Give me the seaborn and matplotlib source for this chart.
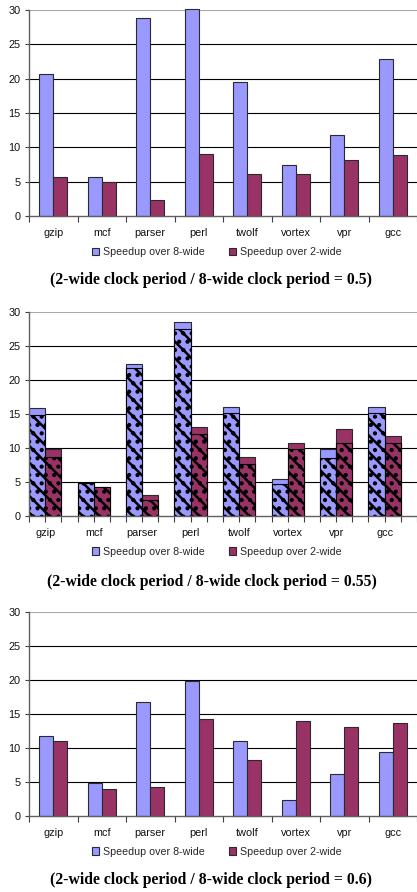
import matplotlib
matplotlib.use("Agg")
import matplotlib.pyplot as plt
import seaborn as sns
import pandas as pd
from matplotlib.patches import Patch

benchmarks = ["gzip", "mcf", "parser", "perl", "twolf", "vortex", "vpr", "gcc"]
series_names = ["Speedup over 8-wide", "Speedup over 2-wide"]

# ratio 0.5
speedup8_r050 = [20.7, 5.7, 28.8, 30.2, 19.5, 7.4, 11.85, 22.8]
speedup2_r050 = [5.65, 4.95, 2.3, 9.0, 6.15, 6.05, 8.1, 8.95]

# ratio 0.55 (solid total + hatched inner part)
speedup8_r055_total = [15.8, 4.9, 22.3, 28.5, 16.05, 5.4, 9.9, 16.05]
speedup8_r055_inner = [14.8, 4.9, 21.8, 27.5, 15.1, 4.65, 8.5, 15.1]
speedup2_r055_total = [9.9, 4.25, 3.1, 13.1, 8.6, 10.7, 12.8, 11.75]
speedup2_r055_inner = [8.7, 4.2, 2.35, 12.0, 7.7, 9.8, 10.7, 10.7]

# ratio 0.6
speedup8_r060 = [11.7, 4.9, 16.7, 19.8, 11.05, 2.35, 6.1, 9.35]
speedup2_r060 = [10.95, 4.0, 4.3, 14.2, 8.2, 13.95, 13.0, 13.65]

titles = ["(2-wide clock period / 8-wide clock period = 0.5)",
          "(2-wide clock period / 8-wide clock period = 0.55)",
          "(2-wide clock period / 8-wide clock period = 0.6)"]
y_ticks = [0, 5, 10, 15, 20, 25, 30]

c8 = "#9999FF"
c2 = "#993366"
edge = "#2a2a2a"

sns.set_style("white")
plt.rcParams["font.family"] = ["Liberation Sans", "DejaVu Sans"]
plt.rcParams["hatch.linewidth"] = 1.8

W, H = 417, 892
fig = plt.figure(figsize=(W / 100, H / 100), dpi=100)


def add_ax(top_px, bottom_px):
    return fig.add_axes([29 / W, 1 - bottom_px / H, 388 / W, (bottom_px - top_px) / H])


def style(ax):
    ax.set_ylim(0, 30)
    ax.set_yticks(y_ticks)
    ax.set_yticklabels([str(t) for t in y_ticks])
    ax.set_ylabel("")
    ax.set_xlabel("")
    ax.set_axisbelow(True)
    ax.yaxis.grid(True, color="black", linewidth=0.8)
    ax.xaxis.grid(False)
    gl = ax.get_ygridlines()
    gl[-1].set_color("#a8a8a8")
    gl[0].set_visible(False)
    for s in ["top", "right"]:
        ax.spines[s].set_visible(False)
    for s in ["left", "bottom"]:
        ax.spines[s].set_color("#606060")
        ax.spines[s].set_linewidth(1.0)
    ax.tick_params(axis="y", left=True, length=3, width=0.8, color="#404040",
                   labelsize=7.8, pad=3, labelcolor="#111111")
    ax.tick_params(axis="x", labelsize=7.8, labelcolor="#111111")
    ax.legend(handles=[Patch(facecolor=c8, edgecolor=edge, linewidth=0.8, label=series_names[0]),
                       Patch(facecolor=c2, edgecolor=edge, linewidth=0.8, label=series_names[1])],
              loc="center", bbox_to_anchor=(0.484, -0.175), ncol=2, frameon=False,
              fontsize=7.7, handlelength=0.65, handleheight=0.65, handletextpad=0.4,
              columnspacing=2.3)


def simple_panel(ax, v8, v2):
    df = pd.DataFrame({"benchmark": benchmarks * 2,
                       "speedup": v8 + v2,
                       "series": [series_names[0]] * len(v8) + [series_names[1]] * len(v2)})
    sns.barplot(data=df, x="benchmark", y="speedup", hue="series", order=benchmarks,
                hue_order=series_names, palette=[c8, c2], saturation=1, width=0.57, gap=0,
                edgecolor=edge, linewidth=0.8, errorbar=None, legend=False, ax=ax,
                clip_on=False)
    ax.set_xlim(-0.5, len(benchmarks) - 0.5)
    ax.set_xticks(range(len(benchmarks)))
    ax.set_xticklabels(benchmarks)
    ax.set_xticks([i - 0.5 for i in range(len(benchmarks) + 1)], minor=True)
    ax.tick_params(axis="x", which="major", length=0, pad=9)
    ax.tick_params(axis="x", which="minor", bottom=True, length=4, width=0.8, color="#404040")
    style(ax)


def hatched_panel(ax, t8, i8, t2, i2):
    n = len(benchmarks)
    slots = [3 * k + 0.5 for k in range(n)] + [3 * k + 1.5 for k in range(n)]
    ser = [series_names[0]] * n + [series_names[1]] * n
    df_t = pd.DataFrame({"slot": slots, "speedup": t8 + t2, "series": ser})
    df_i = pd.DataFrame({"slot": slots, "speedup": i8 + i2, "series": ser})
    common = dict(x="slot", y="speedup", hue="series", hue_order=series_names,
                  palette=[c8, c2], saturation=1, native_scale=True, dodge=False,
                  width=1.0, errorbar=None, legend=False, ax=ax)
    sns.barplot(data=df_t, edgecolor=edge, linewidth=0.8, **common)
    sns.barplot(data=df_i, edgecolor="black", linewidth=0.8, hatch="\\\\..", **common)
    ax.set_xlim(0, 3 * n)
    ax.set_xticks(range(3 * n + 1))
    labels = [""] * (3 * n + 1)
    for k, b in enumerate(benchmarks):
        labels[3 * k + 1] = b
    ax.set_xticklabels(labels)
    ax.tick_params(axis="x", which="major", bottom=True, length=4, width=0.8,
                   color="#404040", pad=5)
    style(ax)


ax1 = add_ax(10, 216)
simple_panel(ax1, speedup8_r050, speedup2_r050)
ax2 = add_ax(311.7, 516)
hatched_panel(ax2, speedup8_r055_total, speedup8_r055_inner,
              speedup2_r055_total, speedup2_r055_inner)
ax3 = add_ax(611.7, 816)
simple_panel(ax3, speedup8_r060, speedup2_r060)

for ypx, t in zip([280, 581.7, 880], titles):
    fig.text(211.5 / W, 1 - ypx / H, t, ha="center", va="center", color="black",
             family=["Liberation Serif", "DejaVu Serif"], weight="bold", fontsize=11.3)

fig.savefig("out.png", dpi=100)
